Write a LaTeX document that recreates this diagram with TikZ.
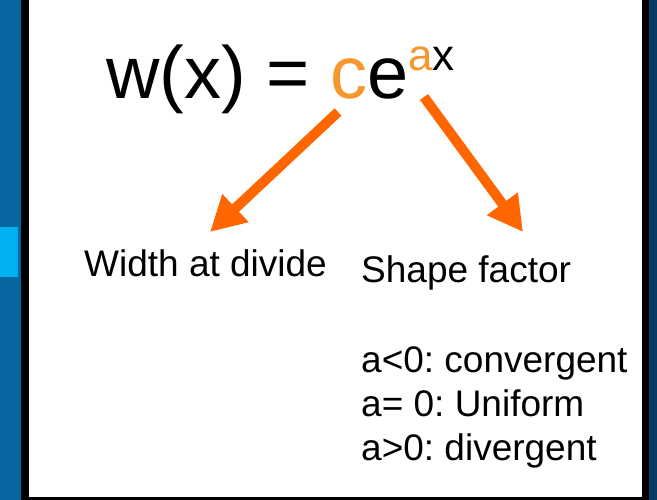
\documentclass[tikz,border=0pt]{standalone}
\usepackage{fontspec}
\setmainfont{Liberation Sans}
\usepackage{xcolor}
\usetikzlibrary{arrows.meta, positioning}
\definecolor{slideblue}{RGB}{7,102,160}
\definecolor{slidecyan}{RGB}{0,176,240}
\definecolor{slidenavy}{RGB}{9,60,100}
\definecolor{coeforange}{RGB}{247,150,45}
\definecolor{arroworange}{RGB}{255,102,0}
\frenchspacing

\begin{document}
\begin{tikzpicture}[
			x=1pt, y=-1pt,
			lbl/.style={inner sep=0pt, anchor=base west, font=\fontsize{37}{44}\selectfont},
			bigarrow/.style={arroworange, line width=10pt, -{Triangle[length=35pt,width=36pt]}}
			]
			\useasboundingbox (0,0) rectangle (657,500);
			% slide background and frame
			\fill[slideblue] (0,0) rectangle (21,500);
			\fill[slidecyan] (0,227) rectangle (18,277);
			\fill[slidenavy] (649,0) rectangle (657,500);
			\fill[black] (21,0) rectangle (649,500);
			\fill[white] (29,0) rectangle (642,497);
			
			\node[lbl, font=\fontsize{74}{74}\selectfont] (eq) at (106,99)
				{w(x) = \textcolor{coeforange}{c}e\raisebox{28pt}{\fontsize{44}{44}\selectfont\textcolor{coeforange}{a}x}};
			
			\node[lbl] (width) at (84,277) {Width at divide};
			\node[lbl] (shape) at (361,283) {Shape factor};
			\node[lbl] (conv) at (361,372) {a<0: convergent};
			\node[lbl] (unif) at ([yshift=-44pt]conv.base west) {a= 0: Uniform};
			\node[lbl] (diverg) at ([yshift=-44pt]unif.base west) {a>0: divergent};
			
			\coordinate (cfoot) at (338,112);
			\coordinate (axfoot) at (424,97);
			\coordinate (widthtip) at (210,232);
			\coordinate (shapetip) at (523,232);
			
			\draw[bigarrow] (cfoot) -- (widthtip);
			\draw[bigarrow] (axfoot) -- (shapetip);
		\end{tikzpicture}
\end{document}
